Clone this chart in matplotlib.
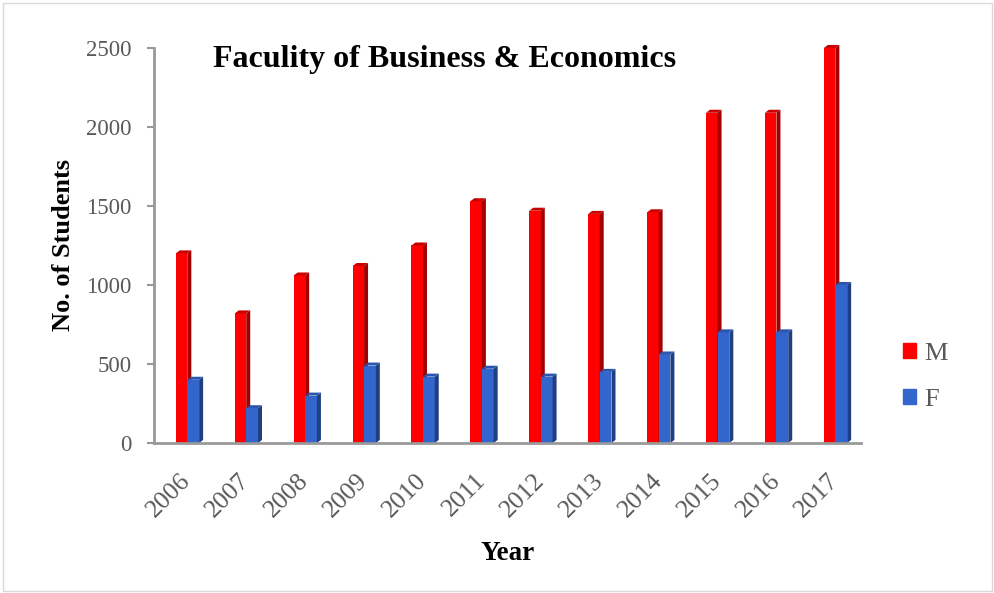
import matplotlib.pyplot as plt
import numpy as np
from matplotlib.patches import Polygon, Rectangle, Patch

plt.rcParams['font.family'] = ['Liberation Serif', 'DejaVu Serif']

# 每年学生人数（男 / 女）
years = ['2006', '2007', '2008', '2009', '2010', '2011',
         '2012', '2013', '2014', '2015', '2016', '2017']
male = [1200, 820, 1060, 1120, 1250, 1530, 1470, 1450, 1460, 2090, 2090, 2500]
female = [400, 220, 300, 490, 420, 470, 420, 450, 560, 700, 700, 1000]

red_front, red_side, red_top = '#ff0000', '#a30000', '#c80000'
blue_front, blue_side, blue_top = '#3366cc', '#203f82', '#2b56ad'
grey = '#595959'


def draw_bar3d(ax, left, width, height, front, side, top, dx=0.068, dy=19):
    """画一个带侧面和顶面的伪3D柱子"""
    right = left + width
    ax.bar(left, height, width=width, align='edge', color=front, zorder=2, clip_on=False)
    ax.add_patch(Polygon([(right, 0), (right + dx, dy), (right + dx, height + dy),
                          (right, height)], closed=True, color=side, lw=0,
                         zorder=2, clip_on=False))
    ax.add_patch(Polygon([(left, height), (left + dx, height + dy),
                          (right + dx, height + dy), (right, height)],
                         closed=True, color=top, lw=0, zorder=2, clip_on=False))


fig = plt.figure(figsize=(9.95, 5.93), dpi=100)
ax = fig.add_axes([0.1548, 0.2530, 0.7105, 0.6661])

x = np.arange(len(years))
for i in range(len(years)):
    draw_bar3d(ax, x[i] - 0.13, 0.195, male[i], red_front, red_side, red_top)
    draw_bar3d(ax, x[i] + 0.065, 0.2, female[i], blue_front, blue_side, blue_top)

ax.set_xlim(-0.5, len(years) - 0.5)
ax.set_ylim(0, 2500)
ax.set_yticks(np.arange(0, 2501, 500))
ax.set_xticks(x + 0.2)
ax.set_xticklabels(years, rotation=45, ha='right', va='top')

for s in ['top', 'right']:
    ax.spines[s].set_visible(False)
for s in ['left', 'bottom']:
    ax.spines[s].set_color('#999999')
    ax.spines[s].set_linewidth(2)
    ax.spines[s].set_zorder(3)
ax.tick_params(axis='y', colors='#999999', labelcolor=grey, labelsize=16.5,
               length=5, width=1.5, pad=11)
ax.tick_params(axis='x', length=0, labelcolor=grey, labelsize=18.5, pad=19)

ax.set_xlabel('Year', fontsize=19.5, fontweight='bold', labelpad=14)
ax.set_ylabel('No. of Students', fontsize=19, fontweight='bold', labelpad=8)

fig.text(445 / 995, 1 - 60 / 593, 'Faculity of Business & Economics',
         ha='center', va='center', fontsize=23, fontweight='bold')

handles = [Patch(color=red_front, label='M'), Patch(color=blue_front, label='F')]
leg = fig.legend(handles=handles, loc='center left',
                 bbox_to_anchor=(879 / 995, 1 - 377 / 593),
                 frameon=False, fontsize=19, handlelength=0.5, handleheight=0.5,
                 handletextpad=0.3, labelspacing=0.93)
for t in leg.get_texts():
    t.set_color(grey)

# 外边框
fig.patches.append(Rectangle((3 / 995, 2 / 593), 989 / 995, 588 / 593,
                             transform=fig.transFigure, fill=False,
                             edgecolor='#d9d9d9', lw=1))

plt.savefig('out.png', dpi=100, facecolor='white')
